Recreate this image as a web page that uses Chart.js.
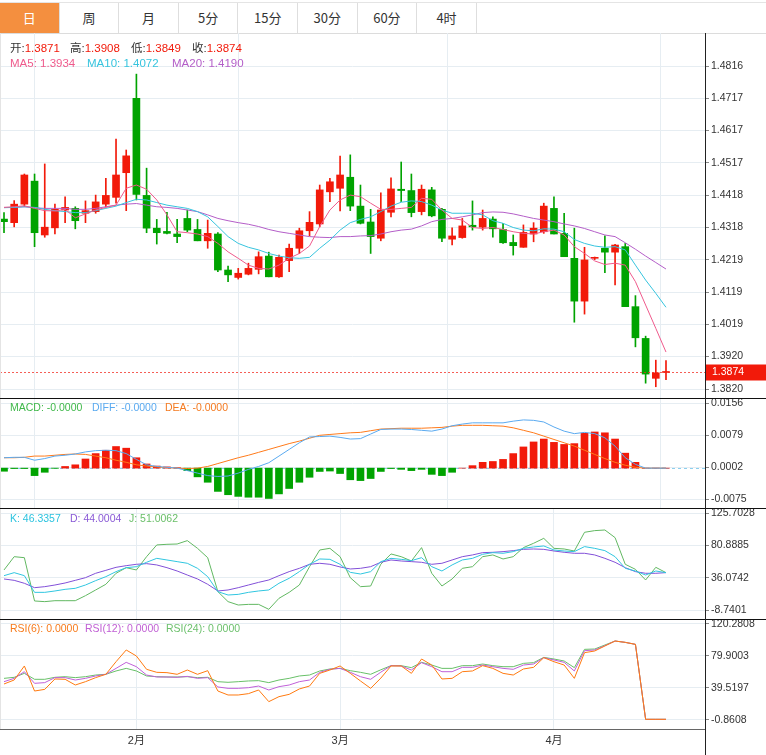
<!DOCTYPE html>
<html>
<head>
<meta charset="utf-8">
<script src="https://cdn.jsdelivr.net/npm/chart.js@4.4.1/dist/chart.umd.min.js"></script>
<style>
body{margin:0;background:#fff;}
#wrap{position:relative;width:766px;height:755px;overflow:hidden;font-family:"Liberation Sans","Noto Sans CJK SC",sans-serif;}
.tabs{position:absolute;left:0;top:2px;width:766px;height:32px;box-sizing:border-box;border-top:1px solid #e4e4e4;border-bottom:1px solid #dcdcdc;}
.tab{position:absolute;top:0;height:30px;line-height:30px;text-align:center;box-sizing:border-box;border-right:1px solid #dedede;font-family:"Noto Sans CJK SC",sans-serif;font-size:13px;color:#333;}
.tab.on{background:#f48f3f;color:#fff;}
canvas{position:absolute;left:0;}
.leg{position:absolute;font-size:10.5px;line-height:14px;white-space:nowrap;}
.leg.big{font-size:11.5px;}
.line{position:absolute;}
</style>
</head>
<body>
<div id="wrap">
  <div class="tabs" id="tabs"></div>
  <canvas id="main" width="766" height="365" style="top:33px"></canvas>
  <canvas id="macd" width="766" height="110" style="top:398px"></canvas>
  <canvas id="kdj" width="766" height="111" style="top:508px"></canvas>
  <canvas id="rsi" width="766" height="136" style="top:619px"></canvas>
  <div class="line" style="left:0;top:33px;width:1px;height:696px;background:#e4e4e4"></div>
  <div class="line" style="left:0;top:398px;width:766px;height:1px;background:#111"></div>
  <div class="line" style="left:0;top:508px;width:766px;height:1px;background:#111"></div>
  <div class="line" style="left:0;top:619px;width:766px;height:1px;background:#111"></div>
  <div class="line" style="left:0;top:729px;width:705px;height:1px;background:#666"></div>
  <div class="line" style="left:705px;top:33px;width:1px;height:722px;background:#222"></div>
  <div id="legends"></div>
</div>
<script>
'use strict';
let tabNames = ['日', '周', '月', '5分', '15分', '30分', '60分', '4时'];

let open = [1.4344, 1.4333, 1.4390, 1.4461, 1.4295, 1.4317, 1.4372, 1.4377, 1.4362, 1.4367,
  1.4390, 1.4411, 1.4487, 1.4716, 1.4417, 1.4316, 1.4306, 1.4298, 1.4346, 1.4312,
  1.4277, 1.4298, 1.4187, 1.4164, 1.4174, 1.4189, 1.4230, 1.4166, 1.4216, 1.4254,
  1.4308, 1.4329, 1.4428, 1.4439, 1.4473, 1.4384, 1.4335, 1.4285, 1.4365, 1.4436,
  1.4432, 1.4367, 1.4434, 1.4374, 1.4282, 1.4287, 1.4325, 1.4319, 1.4344, 1.4312,
  1.4272, 1.4257, 1.4298, 1.4305, 1.4377, 1.4300, 1.4223, 1.4091, 1.4223, 1.4254,
  1.4242, 1.4259, 1.4074, 1.3976, 1.3853, 1.3871];
let high = [1.4364, 1.4401, 1.4483, 1.4483, 1.4514, 1.4390, 1.4413, 1.4382, 1.4400, 1.4418,
  1.4470, 1.4591, 1.4557, 1.4791, 1.4501, 1.4343, 1.4365, 1.4343, 1.4372, 1.4343,
  1.4341, 1.4302, 1.4199, 1.4192, 1.4208, 1.4243, 1.4242, 1.4233, 1.4267, 1.4316,
  1.4367, 1.4449, 1.4470, 1.4538, 1.4542, 1.4449, 1.4374, 1.4425, 1.4471, 1.4520,
  1.4483, 1.4449, 1.4442, 1.4377, 1.4317, 1.4346, 1.4400, 1.4372, 1.4351, 1.4331,
  1.4295, 1.4326, 1.4333, 1.4393, 1.4413, 1.4362, 1.4316, 1.4257, 1.4227, 1.4292,
  1.4266, 1.4269, 1.4108, 1.3983, 1.3909, 1.3908];
let low = [1.4302, 1.4320, 1.4382, 1.4259, 1.4288, 1.4298, 1.4333, 1.4314, 1.4333, 1.4362,
  1.4382, 1.4393, 1.4370, 1.4403, 1.4302, 1.4267, 1.4298, 1.4271, 1.4305, 1.4277,
  1.4254, 1.4182, 1.4151, 1.4159, 1.4172, 1.4175, 1.4166, 1.4164, 1.4182, 1.4238,
  1.4292, 1.4320, 1.4398, 1.4369, 1.4370, 1.4329, 1.4238, 1.4277, 1.4351, 1.4398,
  1.4351, 1.4357, 1.4351, 1.4274, 1.4264, 1.4285, 1.4310, 1.4310, 1.4288, 1.4269,
  1.4233, 1.4257, 1.4274, 1.4300, 1.4298, 1.4228, 1.4026, 1.4051, 1.4219, 1.4179,
  1.4141, 1.4074, 1.3950, 1.3838, 1.3827, 1.3849];
let close = [1.4336, 1.4390, 1.4480, 1.4302, 1.4319, 1.4374, 1.4380, 1.4339, 1.4370, 1.4397,
  1.4417, 1.4480, 1.4539, 1.4420, 1.4316, 1.4302, 1.4300, 1.4290, 1.4310, 1.4277,
  1.4300, 1.4187, 1.4172, 1.4177, 1.4192, 1.4228, 1.4166, 1.4226, 1.4254, 1.4308,
  1.4334, 1.4434, 1.4459, 1.4480, 1.4384, 1.4331, 1.4290, 1.4372, 1.4437, 1.4432,
  1.4364, 1.4436, 1.4354, 1.4285, 1.4292, 1.4323, 1.4320, 1.4346, 1.4314, 1.4271,
  1.4262, 1.4303, 1.4316, 1.4384, 1.4298, 1.4228, 1.4091, 1.4218, 1.4223, 1.4242,
  1.4264, 1.4074, 1.3978, 1.3866, 1.3870, 1.3874];

let ma5 = [1.4380, 1.4382, 1.4385, 1.4377, 1.4370, 1.4369, 1.4374, 1.4348, 1.4360, 1.4372,
  1.4380, 1.4387, 1.4439, 1.4449, 1.4436, 1.4403, 1.4357, 1.4305, 1.4302, 1.4298,
  1.4290, 1.4269, 1.4243, 1.4223, 1.4202, 1.4192, 1.4190, 1.4202, 1.4223, 1.4238,
  1.4261, 1.4321, 1.4372, 1.4403, 1.4418, 1.4413, 1.4393, 1.4374, 1.4374, 1.4377,
  1.4380, 1.4408, 1.4405, 1.4372, 1.4346, 1.4341, 1.4318, 1.4315, 1.4318, 1.4312,
  1.4305, 1.4300, 1.4298, 1.4305, 1.4310, 1.4295, 1.4259, 1.4238, 1.4215, 1.4204,
  1.4208, 1.4202, 1.4151, 1.4079, 1.4007, 1.3934];
let ma10 = [1.4379, 1.4380, 1.4382, 1.4380, 1.4374, 1.4370, 1.4367, 1.4364, 1.4364, 1.4370,
  1.4377, 1.4384, 1.4395, 1.4405, 1.4403, 1.4395, 1.4387, 1.4382, 1.4377, 1.4367,
  1.4351, 1.4321, 1.4290, 1.4269, 1.4257, 1.4249, 1.4238, 1.4230, 1.4225, 1.4223,
  1.4226, 1.4254, 1.4279, 1.4310, 1.4333, 1.4343, 1.4351, 1.4367, 1.4384, 1.4396,
  1.4400, 1.4398, 1.4387, 1.4372, 1.4362, 1.4362, 1.4362, 1.4357, 1.4339, 1.4331,
  1.4318, 1.4310, 1.4308, 1.4314, 1.4313, 1.4305, 1.4281, 1.4269, 1.4261, 1.4257,
  1.4259, 1.4249, 1.4202, 1.4156, 1.4115, 1.4072];
let ma20 = [1.4380, 1.4380, 1.4382, 1.4379, 1.4377, 1.4377, 1.4377, 1.4374, 1.4374, 1.4377,
  1.4382, 1.4387, 1.4390, 1.4392, 1.4387, 1.4382, 1.4380, 1.4377, 1.4372, 1.4367,
  1.4357, 1.4346, 1.4339, 1.4333, 1.4328, 1.4321, 1.4312, 1.4305, 1.4300, 1.4295,
  1.4290, 1.4288, 1.4287, 1.4290, 1.4290, 1.4292, 1.4293, 1.4298, 1.4305, 1.4310,
  1.4313, 1.4323, 1.4336, 1.4343, 1.4346, 1.4351, 1.4357, 1.4364, 1.4366, 1.4365,
  1.4360, 1.4353, 1.4346, 1.4341, 1.4336, 1.4329, 1.4323, 1.4315, 1.4305, 1.4295,
  1.4290, 1.4271, 1.4251, 1.4230, 1.4210, 1.4190];

let macdBars = [-0.00075, -0.0001, -0.0001, -0.0018, -0.0010, -0.00005, 0.0004, 0.0008, 0.0022, 0.0035,
  0.0043, 0.0052, 0.0048, 0.0025, 0.0010, 0.0005, 0.0003, 0.0001, -0.0006, -0.0021,
  -0.0034, -0.0056, -0.0064, -0.0068, -0.0070, -0.0070, -0.0073, -0.0062, -0.0049, -0.0034,
  -0.0022, -0.0008, -0.0007, -0.0013, -0.0028, -0.0030, -0.0025, -0.0008, -0.0001, -0.0003,
  -0.0006, -0.0003, -0.0015, -0.0018, -0.0010, 0.0000, 0.0006, 0.0014, 0.0016, 0.0021,
  0.0035, 0.0051, 0.0063, 0.0070, 0.0062, 0.0057, 0.0059, 0.0084, 0.0087, 0.0085,
  0.0070, 0.0036, 0.0014, 0, 0, 0];
let diff = [0.0025, 0.0026, 0.0026, 0.0019, 0.0023, 0.0029, 0.0031, 0.0034, 0.0039, 0.0042,
  0.0043, 0.0042, 0.0035, 0.0021, 0.0008, 0.0004, 0.0002, 0.0000, -0.0006, -0.0012,
  -0.0018, -0.0020, -0.0019, -0.0012, -0.0003, 0.0004, 0.0013, 0.0029, 0.0045, 0.0061,
  0.0075, 0.0076, 0.0077, 0.0074, 0.0070, 0.0071, 0.0082, 0.0093, 0.0094, 0.0094,
  0.0093, 0.0091, 0.0089, 0.0094, 0.0102, 0.0106, 0.0109, 0.0109, 0.0109, 0.0109,
  0.0113, 0.0116, 0.0115, 0.0111, 0.0099, 0.0089, 0.0083, 0.0086, 0.0083, 0.0073,
  0.0053, 0.0025, 0.0009, 0, 0, 0];
let dea = [0.0025, 0.0025, 0.0026, 0.0029, 0.0029, 0.0031, 0.0033, 0.0034, 0.0033, 0.0029,
  0.0025, 0.0019, 0.0014, 0.0008, 0.0005, 0.0003, 0.0001, 0.0000, -0.0001, 0.0000,
  0.0004, 0.0011, 0.0018, 0.0025, 0.0031, 0.0038, 0.0045, 0.0052, 0.0059, 0.0065,
  0.0072, 0.0079, 0.0081, 0.0083, 0.0085, 0.0086, 0.0090, 0.0094, 0.0095, 0.0096,
  0.0096, 0.0096, 0.0097, 0.0098, 0.0101, 0.0103, 0.0103, 0.0103, 0.0102, 0.0101,
  0.0097, 0.0091, 0.0085, 0.0077, 0.0069, 0.0061, 0.0053, 0.0043, 0.0033, 0.0023,
  0.0014, 0.0007, 0.0002, 0, 0, 0];

let kLine = [39.0, 43.2, 39.0, 15.8, 15.8, 17.7, 20.0, 21.4, 26.0, 32.1,
  37.6, 44.6, 50.1, 51.5, 57.6, 63.1, 60.8, 58.5, 56.2, 49.2,
  37.6, 16.8, 12.1, 13.0, 15.8, 17.7, 19.1, 28.4, 35.3, 44.6,
  54.8, 62.2, 61.7, 54.8, 43.6, 41.3, 44.6, 58.5, 63.1, 61.7,
  59.9, 64.0, 51.5, 45.5, 53.9, 60.8, 63.1, 68.7, 71.0, 70.1,
  72.4, 77.0, 78.9, 80.3, 74.7, 73.3, 72.4, 79.4, 77.0, 73.8,
  65.4, 49.2, 45.5, 39.9, 45.5, 43.2];
let dLine = [34.4, 32.5, 28.4, 22.3, 23.7, 26.0, 28.8, 32.5, 36.2, 42.3,
  46.4, 50.6, 52.9, 54.8, 55.7, 53.9, 50.1, 45.5, 39.9, 34.4,
  27.0, 17.7, 19.1, 22.3, 26.0, 29.7, 33.0, 39.0, 44.6, 49.2,
  54.8, 56.2, 54.8, 51.1, 48.3, 49.2, 51.5, 57.6, 60.8, 59.4,
  58.5, 57.6, 54.8, 56.2, 60.8, 65.4, 67.8, 71.0, 71.5, 72.4,
  73.8, 75.6, 76.1, 75.6, 73.3, 71.5, 70.1, 70.1, 67.8, 63.1,
  57.6, 50.1, 44.6, 42.3, 42.3, 43.2];
let jLine = [46.9, 65.4, 64.0, 3.8, 2.9, 4.2, 4.2, 4.2, 11.2, 19.1,
  27.0, 42.3, 50.1, 46.9, 65.4, 81.7, 82.6, 83.0, 87.7, 77.0,
  64.0, 16.8, 2.9, -1.8, -0.9, -0.9, -7.8, 7.5, 15.8, 26.0,
  51.5, 74.7, 77.0, 65.4, 36.2, 23.7, 24.6, 55.0, 69.2, 65.4,
  59.4, 78.0, 42.3, 24.6, 34.4, 49.2, 51.5, 65.4, 67.8, 62.2,
  65.4, 78.0, 84.0, 90.9, 77.0, 76.1, 73.3, 99.3, 101.6, 102.5,
  91.9, 54.8, 47.8, 33.0, 50.6, 43.2];

let rsi6 = [44.6, 49.6, 67.3, 35.7, 37.8, 50.9, 50.5, 43.3, 47.5, 52.6,
  56.8, 72.7, 87.5, 79.9, 63.1, 59.3, 58.9, 56.8, 62.2, 56.8,
  61.4, 35.7, 30.7, 30.7, 32.4, 37.0, 22.3, 28.6, 31.5, 38.3,
  42.0, 58.0, 62.2, 67.3, 58.0, 48.4, 39.1, 52.0, 67.3, 67.3,
  58.0, 76.1, 68.5, 50.9, 51.7, 60.1, 61.0, 67.7, 64.3, 58.0,
  55.9, 63.5, 65.6, 77.8, 72.7, 68.5, 51.7, 84.1, 86.2, 92.5,
  98.8, 97.1, 94.6, 0, 0, 0];
let rsi12 = [47.5, 51.7, 60.1, 45.4, 46.3, 52.6, 52.6, 49.6, 51.7, 54.7,
  56.8, 64.3, 71.9, 66.4, 55.9, 53.4, 53.4, 53.0, 54.2, 51.7,
  52.6, 40.8, 39.1, 39.1, 39.9, 42.0, 37.0, 41.2, 43.3, 47.5,
  49.6, 59.3, 63.1, 64.3, 59.3, 53.8, 50.5, 59.5, 67.7, 67.3,
  62.2, 71.5, 66.4, 60.1, 60.1, 65.6, 65.6, 68.5, 66.4, 64.3,
  63.1, 68.5, 69.8, 77.8, 74.9, 71.9, 61.0, 86.6, 87.5, 92.9,
  98.8, 97.1, 94.6, 0, 0, 0];
let rsi24 = [51.7, 53.0, 58.0, 50.5, 50.5, 53.0, 53.8, 52.6, 53.8, 55.9,
  56.8, 61.0, 64.3, 61.0, 54.7, 53.8, 53.4, 53.4, 53.8, 52.6,
  53.0, 47.5, 46.7, 47.5, 48.4, 48.8, 46.3, 49.6, 51.7, 54.7,
  55.9, 61.0, 63.5, 64.3, 61.4, 59.3, 56.8, 62.5, 67.7, 67.7,
  65.2, 71.9, 68.5, 64.3, 64.3, 67.7, 67.7, 69.8, 67.7, 66.4,
  66.4, 70.6, 71.5, 78.2, 76.1, 73.6, 65.2, 88.3, 88.7, 93.8,
  98.8, 97.1, 94.6, 0, 0, 0];

let monthIdx = [13, 33, 54];
let monthLabels = ['2月', '3月', '4月'];
let mainTicks = [1.4816, 1.4717, 1.4617, 1.4517, 1.4418, 1.4318, 1.4219, 1.4119, 1.4019, 1.3920, 1.3820];
let macdTicks = [0.0156, 0.0079, 0.0002, -0.0075];
let kdjTicks = [125.7028, 80.8885, 36.0742, -8.7401];
let rsiTicks = [120.2808, 79.9003, 39.5197, -0.8608];
let macdLegend = ['-0.0000', '-0.0000', '-0.0000'];
let kdjLegend = ['46.3357', '44.0004', '51.0062'];
let rsiLegend = ['0.0000', '0.0000', '0.0000'];

const RED = 'rgb(242,26,10)';
const GREEN = 'rgb(0,163,0)';
const last = close.length - 1;

// tabs
let tabs = document.getElementById('tabs');
tabNames.forEach(function (name, i) {
  let d = document.createElement('div');
  d.className = 'tab' + (i === 0 ? ' on' : '');
  d.style.left = (i * 59.6) + 'px';
  d.style.width = '59.6px';
  d.textContent = name;
  tabs.appendChild(d);
});

// legends
let legends = document.getElementById('legends');
function leg(x, y, parts, big) {
  let d = document.createElement('div');
  d.className = 'leg' + (big ? ' big' : '');
  d.style.left = x + 'px';
  d.style.top = y + 'px';
  parts.forEach(function (p) {
    let s = document.createElement('span');
    s.style.color = p[1];
    s.textContent = p[0];
    d.appendChild(s);
  });
  legends.appendChild(d);
}
leg(10, 41, [['开:', '#333'], [open[last].toFixed(4), RED]], true);
leg(70, 41, [['高:', '#333'], [high[last].toFixed(4), RED]], true);
leg(131, 41, [['低:', '#333'], [low[last].toFixed(4), RED]], true);
leg(192, 41, [['收:', '#333'], [close[last].toFixed(4), RED]], true);
leg(10, 56, [['MA5: ' + ma5[last].toFixed(4), '#ef5a8c']], true);
leg(87, 56, [['MA10: ' + ma10[last].toFixed(4), '#36c4de']], true);
leg(172, 56, [['MA20: ' + ma20[last].toFixed(4), '#b45ec8']], true);
leg(10, 400, [['MACD: ' + macdLegend[0], '#3fb84a']]);
leg(92, 400, [['DIFF: ' + macdLegend[1], '#5aaaf0']]);
leg(165, 400, [['DEA: ' + macdLegend[2], '#f47a20']]);
leg(10, 511, [['K: ' + kdjLegend[0], '#2cc3df']]);
leg(70, 511, [['D: ' + kdjLegend[1], '#8a5ad6']]);
leg(129, 511, [['J: ' + kdjLegend[2], '#6abf69']]);
leg(10, 621, [['RSI(6): ' + rsiLegend[0], '#f77b1c']]);
leg(85, 621, [['RSI(12): ' + rsiLegend[1], '#c05fd4']]);
leg(166, 621, [['RSI(24): ' + rsiLegend[2], '#6cc06c']]);

function pts(arr) {
  return arr.map(function (v, i) { return {x: i, y: v}; });
}
function lineDs(arr, color) {
  return {type: 'line', data: pts(arr), borderColor: color, borderWidth: 1, pointRadius: 0, tension: 0, order: 0};
}
function xScale(showLabels) {
  return {
    type: 'linear', min: -0.393, max: 68.83, offset: false,
    afterBuildTicks: function (s) { s.ticks = monthIdx.map(function (v) { return {value: v}; }); },
    afterFit: function (s) { s.height = showLabels ? 26 : 0; s.paddingLeft = 0; s.paddingRight = 0; },
    grid: {color: '#e6edf2', drawTicks: false},
    border: {display: false},
    ticks: {
      display: showLabels, autoSkip: false, maxRotation: 0, padding: 5, color: '#333',
      font: {family: 'Liberation Sans, Noto Sans CJK SC', size: 11},
      callback: function (v, i) { return monthLabels[i]; }
    }
  };
}
function yScale(min, max, ticks) {
  return {
    position: 'right', min: min, max: max,
    afterBuildTicks: function (s) { s.ticks = ticks.map(function (v) { return {value: v}; }); },
    afterFit: function (s) { s.width = 61; s.paddingTop = 0; s.paddingBottom = 0; },
    grid: {color: '#e6edf2', tickLength: 4, tickColor: '#888'},
    border: {display: false},
    ticks: {
      autoSkip: false, padding: 2, color: '#333',
      font: {family: 'Liberation Sans', size: 10.5},
      callback: function (v) { return Number(v).toFixed(4); }
    }
  };
}
function baseOptions(x, y) {
  return {
    responsive: false, animation: false, events: [],
    layout: {padding: 0},
    plugins: {legend: {display: false}, tooltip: {enabled: false}},
    scales: {x: x, y: y}
  };
}

let candleColors = open.map(function (o, i) { return close[i] >= o ? RED : GREEN; });

// last price marker
let priceLine = {
  id: 'priceLine',
  afterDraw: function (chart) {
    let ctx = chart.ctx, area = chart.chartArea;
    let y = Math.round(chart.scales.y.getPixelForValue(close[last])) + 0.5;
    ctx.save();
    ctx.strokeStyle = 'rgba(242,40,30,0.75)';
    ctx.lineWidth = 1;
    ctx.setLineDash([2, 2]);
    ctx.beginPath();
    ctx.moveTo(area.left, y);
    ctx.lineTo(area.right, y);
    ctx.stroke();
    ctx.setLineDash([]);
    ctx.fillStyle = RED;
    ctx.fillRect(area.right, y - 8, 61, 16);
    ctx.fillStyle = '#fff';
    ctx.font = '10.5px Liberation Sans';
    ctx.textBaseline = 'middle';
    ctx.fillText(close[last].toFixed(4), area.right + 7, y);
    ctx.restore();
  }
};

new Chart(document.getElementById('main'), {
  type: 'bar',
  data: {
    datasets: [
      lineDs(ma5, '#ef5a8c'),
      lineDs(ma10, '#36c4de'),
      lineDs(ma20, '#b45ec8'),
      {type: 'bar', data: open.map(function (o, i) { return {x: i, y: [o, close[i]]}; }),
        backgroundColor: candleColors, barThickness: 7, minBarLength: 1, grouped: false, order: 1},
      {type: 'bar', data: high.map(function (h, i) { return {x: i, y: [low[i], h]}; }),
        backgroundColor: candleColors, barThickness: 1, grouped: false, order: 2}
    ]
  },
  options: baseOptions(xScale(false), yScale(1.37923, 1.49178, mainTicks)),
  plugins: [priceLine]
});

let zeroLine = {
  id: 'zeroLine',
  beforeDatasetsDraw: function (chart) {
    let ctx = chart.ctx, area = chart.chartArea;
    let y = Math.round(chart.scales.y.getPixelForValue(0)) + 0.5;
    ctx.save();
    ctx.strokeStyle = '#8ccfee';
    ctx.lineWidth = 1;
    ctx.setLineDash([3, 3]);
    ctx.beginPath();
    ctx.moveTo(area.left, y);
    ctx.lineTo(area.right, y);
    ctx.stroke();
    ctx.restore();
  }
};

new Chart(document.getElementById('macd'), {
  type: 'bar',
  data: {
    datasets: [
      lineDs(diff, '#5aaaf0'),
      lineDs(dea, '#ff7a1a'),
      {type: 'bar', data: pts(macdBars), order: 1, grouped: false, barThickness: 7,
        backgroundColor: macdBars.map(function (v) { return v >= 0 ? RED : GREEN; })}
    ]
  },
  options: baseOptions(xScale(false), yScale(-0.009594, 0.016875, macdTicks)),
  plugins: [zeroLine]
});

new Chart(document.getElementById('kdj'), {
  type: 'line',
  data: {
    datasets: [
      lineDs(kLine, '#30c6e0'),
      lineDs(dLine, '#8250d8'),
      lineDs(jLine, '#62b862')
    ]
  },
  options: baseOptions(xScale(false), yScale(-21.25, 133.07, kdjTicks))
});

new Chart(document.getElementById('rsi'), {
  type: 'line',
  data: {
    datasets: [
      lineDs(rsi6, '#ff7a10'),
      lineDs(rsi12, '#c060d8'),
      lineDs(rsi24, '#68c068')
    ]
  },
  options: baseOptions(xScale(true), yScale(-12.22, 126.59, rsiTicks))
});
</script>
</body>
</html>
